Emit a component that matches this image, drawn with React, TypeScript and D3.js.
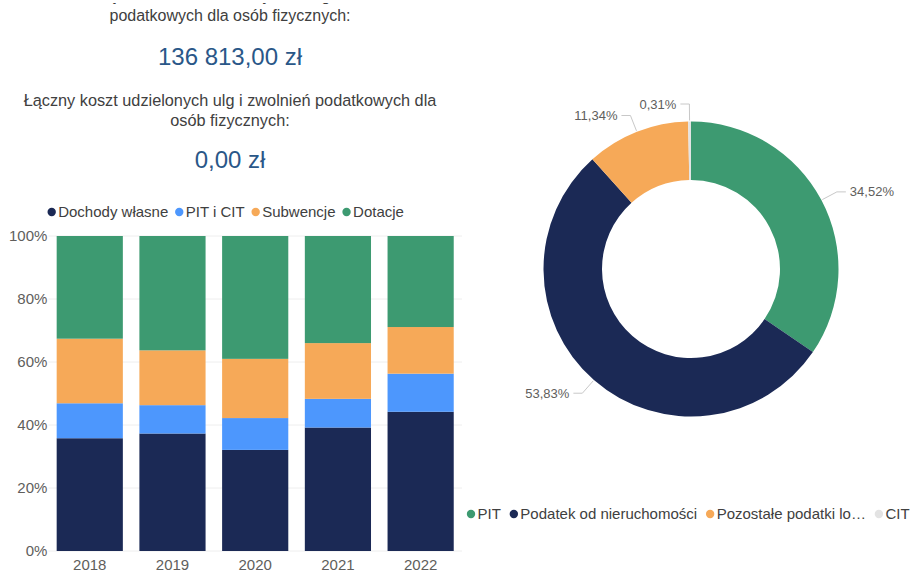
import React, { useEffect, useRef } from 'react';
import * as d3 from 'd3';

// stacked bar chart data (shares in %)
const years = ['2018', '2019', '2020', '2021', '2022'];
const dochodyWlasne = [35.8, 37.3, 32.1, 39.2, 44.2];
const pitICit = [11.1, 9.0, 10.1, 9.1, 12.1];
const subwencje = [20.5, 17.4, 18.8, 17.7, 14.8];
const dotacje = [32.6, 36.3, 39.0, 34.0, 28.9];
const barSeriesNames = ['Dochody własne', 'PIT i CIT', 'Subwencje', 'Dotacje'];
const yTicks = [0, 20, 40, 60, 80, 100];

// donut data
const taxNames = ['PIT', 'Podatek od nieruchomości', 'Pozostałe podatki lokalne', 'CIT'];
const taxLegendLabels = ['PIT', 'Podatek od nieruchomości', 'Pozostałe podatki lo…', 'CIT'];
const taxShares = [34.52, 53.83, 11.34, 0.31];

// text cards
const card1Lines = ['Łączna kwota umorzonych zaległości', 'podatkowych dla osób fizycznych:'];
const card1Value = '136 813,00 zł';
const card2Lines = ['Łączny koszt udzielonych ulg i zwolnień podatkowych dla', 'osób fizycznych:'];
const card2Value = '0,00 zł';

const barColors = ['#1b2955', '#4d97fd', '#f6a958', '#3d9a71'];
const donutColors = ['#3d9a71', '#1b2955', '#f6a958', '#e3e3e3'];
const FONT = '"Liberation Sans", Arial, sans-serif';

function App() {
  const ref = useRef<SVGSVGElement>(null);

  useEffect(() => {
    const width = 915;
    const height = 577;
    const svg = d3.select(ref.current);
    svg.selectAll('*').remove();
    svg.attr('font-family', FONT);

    // card is scrolled, so its first line is hidden above the top edge
    svg.append('defs').append('clipPath').attr('id', 'card-clip')
      .append('rect').attr('x', 0).attr('y', 3).attr('width', 460).attr('height', 200);

    // ---- text cards
    const cx = 230;
    const card = svg.append('g').attr('clip-path', 'url(#card-clip)');
    card1Lines.forEach((t, i) => {
      card.append('text').attr('x', cx).attr('y', 1 + i * 20)
        .attr('text-anchor', 'middle').attr('font-size', 16).attr('fill', '#404040').text(t);
    });
    card.append('text').attr('x', cx).attr('y', 65)
      .attr('text-anchor', 'middle').attr('font-size', 24).attr('fill', '#2a5788').text(card1Value);
    card2Lines.forEach((t, i) => {
      card.append('text').attr('x', cx).attr('y', 106 + i * 20)
        .attr('text-anchor', 'middle').attr('font-size', 16.3).attr('fill', '#404040').text(t);
    });
    card.append('text').attr('x', cx).attr('y', 168)
      .attr('text-anchor', 'middle').attr('font-size', 24).attr('fill', '#2a5788').text(card2Value);

    // ---- stacked bar chart
    const plot = { left: 48.4, right: 462, top: 236, bottom: 551 };
    const x = d3.scaleBand()
      .domain(years)
      .range([plot.left, plot.right])
      .paddingInner(0.2)
      .paddingOuter(0.1);
    const y = d3.scaleLinear().domain([0, 100]).range([plot.bottom, plot.top]);

    const rows = years.map((yr, i) => ({
      year: yr,
      'Dochody własne': dochodyWlasne[i],
      'PIT i CIT': pitICit[i],
      'Subwencje': subwencje[i],
      'Dotacje': dotacje[i],
    }));
    const color = d3.scaleOrdinal<string>().domain(barSeriesNames).range(barColors);
    const stacked = d3.stack<any>().keys(barSeriesNames)(rows);

    // gridlines
    svg.append('g')
      .selectAll('line')
      .data(yTicks)
      .join('line')
      .attr('x1', plot.left)
      .attr('x2', plot.right)
      .attr('y1', d => y(d))
      .attr('y2', d => y(d))
      .attr('stroke', '#eeeeee')
      .attr('stroke-width', 1);

    svg.append('g')
      .selectAll('g')
      .data(stacked)
      .join('g')
      .attr('fill', d => color(d.key))
      .selectAll('rect')
      .data(d => d)
      .join('rect')
      .attr('x', d => x(d.data.year)!)
      .attr('y', d => y(d[1]))
      .attr('width', x.bandwidth())
      .attr('height', d => y(d[0]) - y(d[1]));

    // y axis labels
    const yAxis = svg.append('g')
      .attr('transform', `translate(${plot.left},0)`)
      .call(d3.axisLeft(y).tickValues(yTicks).tickFormat(d => `${d}%`).tickSize(0).tickPadding(1));
    yAxis.select('.domain').remove();
    yAxis.selectAll('text')
      .attr('font-size', 15)
      .attr('font-family', FONT)
      .attr('fill', '#605e5c');

    // x axis labels
    const xAxis = svg.append('g')
      .attr('transform', `translate(0,${plot.bottom})`)
      .call(d3.axisBottom(x).tickSize(0).tickPadding(8));
    xAxis.select('.domain').remove();
    xAxis.selectAll('text')
      .attr('font-size', 15)
      .attr('font-family', FONT)
      .attr('fill', '#605e5c');

    // legend helper
    const drawLegend = (names: string[], colors: string[], x0: number, ly: number, gap: number) => {
      let cur = x0;
      names.forEach((n, i) => {
        svg.append('circle').attr('cx', cur).attr('cy', ly).attr('r', 4.2).attr('fill', colors[i]);
        const t = svg.append('text')
          .attr('x', cur + 6.5)
          .attr('y', ly)
          .attr('dy', '0.35em')
          .attr('font-size', 15)
          .attr('fill', '#404040')
          .text(n);
        const w = (t.node() as SVGTextElement).getComputedTextLength();
        cur = cur + 6.5 + w + gap;
      });
    };
    drawLegend(barSeriesNames, barColors, 51.7, 212, 11);

    // ---- donut
    const dcx = 691;
    const dcy = 269;
    const outerR = 147.5;
    const innerR = 89;
    const pie = d3.pie<number>().sort(null).value(d => d);
    const arcs = pie(taxShares);
    const arc = d3.arc<d3.PieArcDatum<number>>().innerRadius(innerR).outerRadius(outerR);
    const donut = svg.append('g').attr('transform', `translate(${dcx},${dcy})`);
    donut.selectAll('path')
      .data(arcs)
      .join('path')
      .attr('d', arc)
      .attr('fill', (_, i) => donutColors[i]);

    const fmt = (v: number) => v.toFixed(2).replace('.', ',') + '%';
    arcs.forEach((a, i) => {
      const mid = (a.startAngle + a.endAngle) / 2;
      const sx = Math.sin(mid);
      const sy = -Math.cos(mid);
      const side = sx >= 0 ? 1 : -1;
      const p0 = [sx * (outerR + 1), sy * (outerR + 1)];
      const p1 = [sx * 165, sy * 165];
      const p2 = [p1[0] + side * 9, p1[1]];
      donut.append('polyline')
        .attr('points', [p0, p1, p2].map(p => p.join(',')).join(' '))
        .attr('fill', 'none')
        .attr('stroke', '#c8c8c8')
        .attr('stroke-width', 1);
      donut.append('text')
        .attr('x', p2[0] + side * 4)
        .attr('y', p2[1])
        .attr('dy', '0.35em')
        .attr('text-anchor', side > 0 ? 'start' : 'end')
        .attr('font-size', 13)
        .attr('fill', '#605e5c')
        .text(fmt(taxShares[i]));
    });

    drawLegend(taxLegendLabels, donutColors, 471, 514, 13);

    svg.attr('viewBox', `0 0 ${width} ${height}`);
  }, []);

  return (
    <svg
      ref={ref}
      width={915}
      height={577}
      style={{ position: 'absolute', left: 0, top: 0, background: '#fff' }}
    >
      <title>{taxNames.join(', ')}</title>
    </svg>
  );
}

export default App;
